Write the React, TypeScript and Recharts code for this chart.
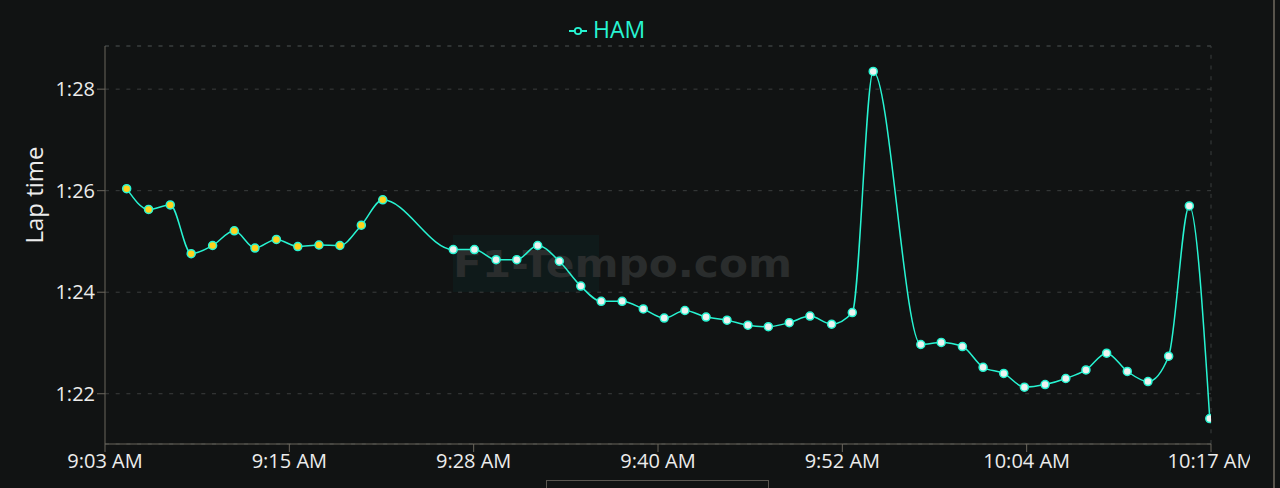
import React from 'react';
import {
	LineChart,
	Line,
	XAxis,
	YAxis,
	CartesianGrid,
	ReferenceLine,
	Legend,
} from 'recharts';

// lap completion clock times (HAM)
const LAP_CLOCK = [
	'9:04:27', '9:05:55', '9:07:22', '9:08:46', '9:10:12', '9:11:39', '9:13:02',
	'9:14:28', '9:15:54', '9:17:19', '9:18:43', '9:20:09', '9:21:35', '9:26:18',
	'9:27:43', '9:29:10', '9:30:33', '9:31:57', '9:33:24', '9:34:50', '9:36:12',
	'9:37:36', '9:39:01', '9:40:25', '9:41:48', '9:43:13', '9:44:37', '9:46:01',
	'9:47:23', '9:48:47', '9:50:10', '9:51:37', '9:53:00', '9:54:24', '9:57:35',
	'9:58:57', '10:00:22', '10:01:45', '10:03:08', '10:04:31', '10:05:54', '10:07:17',
	'10:08:38', '10:10:01', '10:11:24', '10:12:47', '10:14:10', '10:15:33', '10:16:55',
];

// lap times in seconds
const LAP_TIMES = [
	86.04, 85.63, 85.72, 84.76, 84.92, 85.21, 84.87, 85.04, 84.9, 84.93, 84.92, 85.32, 85.82,
	84.84, 84.84, 84.64, 84.64, 84.92, 84.61, 84.12, 83.82, 83.82, 83.67, 83.49, 83.64, 83.51,
	83.45, 83.35, 83.32, 83.4, 83.53, 83.37, 83.6, 88.35, 82.97, 83.01, 82.93, 82.52, 82.4,
	82.13, 82.18, 82.3, 82.47, 82.8, 82.44, 82.24, 82.74, 85.7, 81.51,
];

// tyre compound per lap
const COMPOUNDS = [
	'M', 'M', 'M', 'M', 'M', 'M', 'M', 'M', 'M', 'M', 'M', 'M', 'M',
	'H', 'H', 'H', 'H', 'H', 'H', 'H', 'H', 'H', 'H', 'H', 'H', 'H', 'H', 'H', 'H',
	'H', 'H', 'H', 'H', 'H', 'H', 'H', 'H', 'H', 'H', 'H', 'H', 'H', 'H', 'H', 'H',
	'H', 'H', 'H', 'H',
];

const X_START = '9:03:00';
const X_END = '10:17:00';
const X_TICK_LABELS = ['9:03 AM', '9:15 AM', '9:28 AM', '9:40 AM', '9:52 AM', '10:04 AM', '10:17 AM'];
const Y_TICKS = [82, 84, 86, 88];

const TEAM_COLOR = '#27F4D2';
const COMPOUND_FILL: Record<string, string> = { M: '#FFD21E', H: '#EDF2F0' };
const BG = '#111313';
const AXIS = '#6b665d';
const GRID = '#3b3e3e';
const FONT = '"Open Sans", "Noto Sans", sans-serif';

const toSec = (s: string) => {
	const [h, m, sec] = s.split(':').map(Number);
	return h * 3600 + m * 60 + sec;
};

const xMin = toSec(X_START);
const xMax = toSec(X_END);
const xTicks = X_TICK_LABELS.map((_, i) => xMin + ((xMax - xMin) * i) / (X_TICK_LABELS.length - 1));
const yMin = Math.min(...LAP_TIMES) - 0.5;
const yMax = Math.max(...LAP_TIMES) + 0.5;

const data = LAP_CLOCK.map((t, i) => ({
	time: toSec(t),
	lap: LAP_TIMES[i],
	compound: COMPOUNDS[i],
}));

const fmtLap = (v: number) => `${Math.floor(v / 60)}:${String(Math.round(v % 60)).padStart(2, '0')}`;

function LapDot(props: any) {
	const { cx, cy, payload, index } = props;
	if (cx == null || cy == null) return null;
	return (
		<circle
			key={`dot-${index}`}
			cx={cx}
			cy={cy}
			r={4}
			fill={COMPOUND_FILL[payload.compound]}
			stroke={TEAM_COLOR}
			strokeWidth={1.5}
		/>
	);
}

function LegendContent() {
	return (
		<div style={{ display: 'flex', alignItems: 'center', fontFamily: FONT }}>
			<svg width={20} height={30}>
				<line x1={1} y1={17} x2={19} y2={17} stroke={TEAM_COLOR} strokeWidth={2} />
				<circle cx={10} cy={17} r={3.2} fill={BG} stroke={TEAM_COLOR} strokeWidth={1.8} />
			</svg>
			<span style={{ color: TEAM_COLOR, fontSize: 23, lineHeight: '30px', marginLeft: 5 }}>HAM</span>
		</div>
	);
}

function YLabel(props: any) {
	const { viewBox } = props;
	const x = viewBox.x + 33;
	const y = viewBox.y + 149;
	return (
		<text
			x={x}
			y={y}
			transform={`rotate(-90, ${x}, ${y})`}
			textAnchor="middle"
			dominantBaseline="central"
			fill="#ececec"
			fontSize={24}
			fontFamily={FONT}
		>
			Lap time
		</text>
	);
}

export default function App() {
	return (
		<div style={{ position: 'absolute', left: 0, top: 0, width: 1280, height: 488, background: BG, overflow: 'hidden' }}>
			{/* watermark */}
			<svg style={{ position: 'absolute', left: 0, top: 0 }} width={1280} height={488}>
				<rect x={453} y={235} width={146} height={57} fill="#0f1a1a" />
				<text
					x={453}
					y={277}
					fontSize={38}
					fontWeight={600}
					fontFamily='"DejaVu Sans", sans-serif'
					fill="#2a2d2d"
					textLength={339}
					lengthAdjust="spacingAndGlyphs"
				>
					F1-Tempo.com
				</text>
			</svg>
			<div style={{ position: 'absolute', left: 0, top: 0 }}>
				<LineChart width={1250} height={488} data={data} margin={{ top: 46, right: 39, left: 0, bottom: 0 }}>
					<CartesianGrid vertical={false} stroke={GRID} strokeDasharray="4 6.7" />
					<ReferenceLine y={yMax} stroke={GRID} strokeDasharray="4 6.7" />
					<ReferenceLine x={xMax} stroke={GRID} strokeDasharray="4 6.7" />
					<XAxis
						dataKey="time"
						type="number"
						domain={[xMin, xMax]}
						ticks={xTicks}
						allowDataOverflow
						tickFormatter={(_v: number, i: number) => X_TICK_LABELS[i]}
						height={44}
						stroke={AXIS}
						tickSize={8}
						tick={{ fill: '#ececec', fontSize: 20, fontFamily: FONT }}
						interval={0}
					/>
					<YAxis
						type="number"
						domain={[yMin, yMax]}
						ticks={Y_TICKS}
						allowDataOverflow
						tickFormatter={fmtLap}
						width={105}
						stroke={AXIS}
						tickSize={8}
						tick={{ fill: '#ececec', fontSize: 20, fontFamily: FONT }}
						label={<YLabel />}
					/>
					<Legend
						verticalAlign="middle"
						align="center"
						content={<LegendContent />}
						wrapperStyle={{ top: 14, left: 568, width: 'auto' }}
					/>
					<Line
						type="monotone"
						dataKey="lap"
						name="HAM"
						stroke={TEAM_COLOR}
						strokeWidth={1.5}
						dot={<LapDot />}
						activeDot={false}
						isAnimationActive={false}
					/>
				</LineChart>
			</div>
			<div style={{ position: 'absolute', left: 1273, top: 0, width: 2, height: 488, background: '#58544c' }} />
			<div
				style={{
					position: 'absolute',
					left: 546,
					top: 480,
					width: 221,
					height: 20,
					borderTop: '1px solid #5a5650',
					borderLeft: '1px solid #5a5650',
					borderRight: '1px solid #5a5650',
				}}
			/>
		</div>
	);
}
